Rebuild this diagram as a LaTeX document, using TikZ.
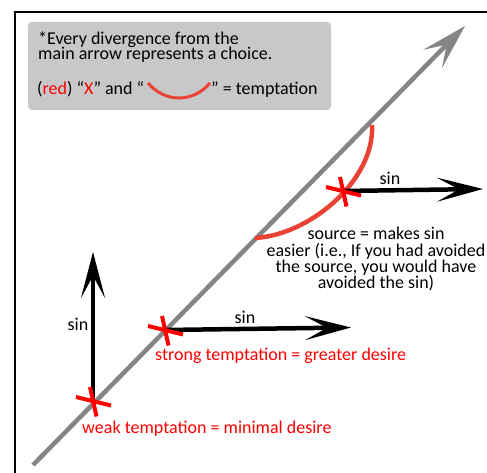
\documentclass[tikz,border=0pt]{standalone}
\usepackage{fontspec}
\setmainfont{Carlito}
\usetikzlibrary{arrows.meta}
\definecolor{mgray}{RGB}{133,133,133}
\definecolor{boxgray}{RGB}{200,200,200}
\definecolor{arcred}{RGB}{234,67,53}
\definecolor{xred}{RGB}{255,0,0}
\begin{document}
\begin{tikzpicture}[x=1pt,y=-1pt,
  lbl/.style={inner sep=0pt, text height=11pt, text depth=3pt, font=\fontsize{18}{18}\selectfont},
  redlbl/.style={lbl, text=xred},
  sinarrow/.style={draw=black, line width=4.5pt, -{Stealth[length=46pt,width=24pt,inset=22pt]}},
  mainarrow/.style={draw=mgray, line width=4.5pt, -{Stealth[length=46pt,width=26pt,inset=20pt]}},
  temptarc/.style={draw=arcred, line width=4.5pt},
  xmark/.pic={\draw[xred, line width=4pt] (-17,-4) -- (18,4.5);
              \draw[xred, line width=4pt] (-3,-14) -- (3.5,15.5);}]
\useasboundingbox (0,0) rectangle (487,473);
\fill[white] (0,0) rectangle (487,473);
% frame
\draw[black, line width=2.5pt] (15,473) -- (15,12) -- (487,12);
% legend box
\fill[boxgray, rounded corners=4pt] (28,22) rectangle (331,110);
\node[lbl, anchor=base west] (l1) at (38,45) {*Every divergence from the};
\node[lbl, anchor=base west] (l2) at (38,59.5) {main arrow represents a choice.};
\node[lbl, anchor=base west] (l3a) at (37,95) {(\textcolor{xred}{red}) “\textcolor{xred}{X}” and “};
\node[lbl, anchor=base west] (l3b) at (211,95) {” = temptation};
\draw[draw=arcred, line width=3pt] (148,83) .. controls (165,103) and (193,103) .. (210,83);
% main arrow
\coordinate (mstart) at (33,465);
\coordinate (mtip) at (465,26);
\draw[mainarrow] (mstart) -- (mtip);
% source arc
\coordinate (arcA) at (372,125);
\coordinate (arcB) at (255,238);
\draw[temptarc] (arcA) .. controls (375,180) and (310,235) .. (arcB);
% choice points
\coordinate (w) at (93,401);
\coordinate (s) at (165,330);
\coordinate (r) at (343,191);
\coordinate (wtip) at (93,252);
\coordinate (stip) at (351,327.5);
\coordinate (rtip) at (483,189);
\draw[sinarrow] (w) -- (wtip);
\draw[sinarrow] (s) -- (stip);
\draw[sinarrow] (r) -- (rtip);
\pic at (w) {xmark};
\pic at (s) {xmark};
\pic at (r) {xmark};
% labels
\node[lbl, anchor=base] (sinr) at (390,185) {sin};
\node[lbl, anchor=base] (src1) at (376,240) {source = makes sin};
\node[lbl, anchor=base] (src2) at (376,256.5) {easier (i.e., If you had avoided};
\node[lbl, anchor=base] (src3) at (376,272.5) {the source, you would have};
\node[lbl, anchor=base] (src4) at (376,288.5) {avoided the sin)};
\node[lbl, anchor=base] (sins) at (245,323) {sin};
\node[redlbl, anchor=base west] (strong) at (155,360) {strong temptation = greater desire};
\node[lbl, anchor=base] (sinw) at (78,330) {sin};
\node[redlbl, anchor=base west] (weak) at (82,433) {weak temptation = minimal desire};
\end{tikzpicture}
\end{document}
